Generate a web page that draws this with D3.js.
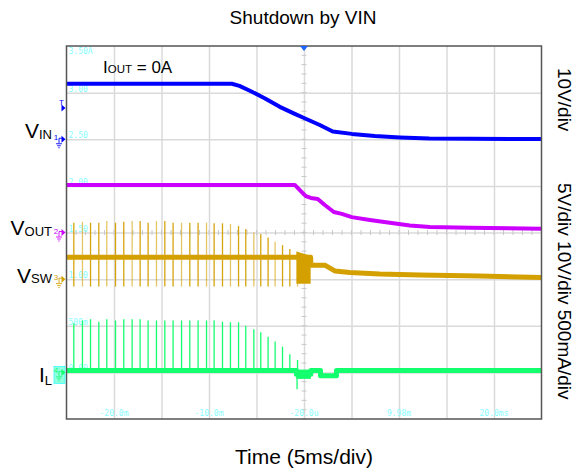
<!DOCTYPE html>
<html>
<head>
<meta charset="utf-8">
<script src="https://cdn.jsdelivr.net/npm/d3@7"></script>
<style>
  body { margin: 0; background: #fff; }
  text { font-family: Arial, "Liberation Sans", sans-serif; }
  .scope { font-family: "DejaVu Sans Mono", monospace; font-size: 8px; fill: #8ff; }
</style>
</head>
<body>
<div id="vis"></div>
<script>
var width = 578, height = 472;

/* plot frame, 10 x 8 divisions */
var plot = {left: 66.5, right: 541.5, top: 46, bottom: 419};

// time axis, ms (5ms/div, trigger in the centre)
var timeDomain = [-25, 25];
var timeGrid = [-20, -15, -10, -5, 0, 5, 10, 15, 20];
var timeLabelPos = [-20, -10, 0, 10, 20];
var timeLabels = ["-20.0m", "-10.0m", "-20.0u", "9.98m", "20.0ms"];

// screen level labels (cyan), one per horizontal grid line
var levelDivs = [4, 3, 2, 1, 0, -1, -2, -3];
var levelLabels = ["3.50A", "3.00", "2.50", "2.00", "1.50", "1.00", "500m", "0.00"];

// VIN, 10V/div
var vinT = [-25, -7.6, -6.8, -5.7, -4.1, -2.55, -0.97, 0, 1.66, 3.03, 5.03, 7.45, 10.1, 13.2, 25];
var vinV = [11.9, 11.9, 11.45, 10.4, 8.75, 6.95, 5.45, 4.55, 3.05, 1.65, 1.15, 0.7, 0.4, 0.15, 0.05];

// VOUT, 5V/div
var voutT = [-25, -0.97, -0.44, 0.19, 0.72, 1.45, 2.19, 3.14, 3.98, 5.03, 6.93, 9.03, 11.14, 13.24, 17.45, 25];
var voutV = [5.1, 5.1, 4.55, 3.9, 3.7, 3.6, 2.95, 2.2, 2.0, 1.65, 1.35, 1.05, 0.75, 0.6, 0.5, 0.4];

// VSW, 10V/div
var vswT = [-25, -0.75, 0.7, 0.72, 2.19, 3.24, 4.82, 7.98, 12.2, 18.5, 25];
var vswV = [4.7, 4.7, 4.7, 3.0, 3.0, 1.75, 1.4, 1.1, 0.9, 0.65, 0.35];
var vswBurstT = [-0.8, 0.7];
var vswBurstHi = [5.9, 5.0];
var vswBurstLo = [-1.0, -1.0];
var vswSpikeLow = -1.6;

// IL, 500mA/div
var ilT = [-25, -0.8, -0.8, 0.72, 0.72, 1.74, 1.74, 3.42, 3.42, 25];
var ilV = [0.02, 0.02, -0.02, -0.02, 0.02, 0.02, -0.036, -0.036, 0.02, 0.02];
var ilBurstT = [-0.8, 0.72];
var ilBurstHi = [0.03, 0.03];
var ilBurstLo = [-0.07, -0.07];
var ilDipT = -0.73, ilDipV = -0.18;

// switching pulses (pulse skipping at no load)
var spikeT = [-24.23, -23.32, -22.47, -21.6, -20.76, -19.84, -18.97, -18.09, -17.25, -16.41,
              -15.53, -14.65, -13.78, -12.89, -12.02, -11.15, -10.26, -9.46, -8.58, -7.74,
              -6.89, -6.13, -5.28, -4.55, -3.78, -3.04, -2.26, -1.49, -0.68];
var vswPeak = [12.1, 12.3, 12.1, 12.1, 12.45, 12.1, 12.3, 12.45, 12.45, 12.1,
               12.45, 12.45, 12.1, 12.1, 12.1, 12.1, 12.1, 11.97, 11.97, 11.8,
               11.4, 10.75, 10.0, 9.7, 8.95, 8.0, 7.3, 6.45, 5.9];
var ilPeak = [0.527, 0.555, 0.57, 0.544, 0.57, 0.555, 0.57, 0.57, 0.57, 0.555,
              0.555, 0.555, 0.555, 0.555, 0.555, 0.555, 0.555, 0.555, 0.544, 0.537,
              0.537, 0.50, 0.462, 0.43, 0.383, 0.33, 0.276, 0.194, 0.133];

/* channel settings: volts (amps) per division, ground offset in divisions */
var channels = {
  vin:  {perDiv: 10,  offset: 2,  color: "#0000ff", num: "1"},
  vout: {perDiv: 5,   offset: 0,  color: "#cc00ff", num: "2"},
  vsw:  {perDiv: 10,  offset: -1, color: "#d4a000", num: "3"},
  il:   {perDiv: 0.5, offset: -3, color: "#14ff6e", num: "4"}
};

var x = d3.scaleLinear().domain(timeDomain).range([plot.left, plot.right]);
var yDiv = d3.scaleLinear().domain([-4, 4]).range([plot.bottom, plot.top]);

function yOf(ch, v) { return yDiv(ch.offset + v / ch.perDiv); }

function zipPts(ts, vs) {
  return ts.map(function(t, i) { return [t, vs[i]]; });
}

var svg = d3.select("#vis").append("svg")
    .attr("width", width)
    .attr("height", height);

svg.append("defs").append("clipPath").attr("id", "clip")
  .append("rect")
    .attr("x", plot.left).attr("y", plot.top)
    .attr("width", plot.right - plot.left).attr("height", plot.bottom - plot.top);

/* grid through axes */
var gridX = d3.axisBottom(x).tickValues(timeGrid).tickSize(-(plot.bottom - plot.top)).tickFormat("");
var gridY = d3.axisLeft(yDiv).tickValues([-3, -2, -1, 0, 1, 2, 3]).tickSize(-(plot.right - plot.left)).tickFormat("");

svg.append("g").attr("class", "grid")
    .attr("transform", "translate(0," + plot.bottom + ")")
    .call(gridX);
svg.append("g").attr("class", "grid")
    .attr("transform", "translate(" + plot.left + ",0)")
    .call(gridY);
svg.selectAll(".grid .domain").remove();
svg.selectAll(".grid line").attr("stroke", "#dadada").attr("stroke-width", 1.5);

// minor ticks on the centre lines
var minorX = d3.range(-25, 25.01, 1);
var minorY = d3.range(-4, 4.01, 0.2);
svg.append("g").selectAll("line").data(minorX).enter().append("line")
    .attr("x1", function(d) { return x(d); }).attr("x2", function(d) { return x(d); })
    .attr("y1", yDiv(0) - 2.5).attr("y2", yDiv(0) + 2.5)
    .attr("stroke", "#c8c8c8").attr("stroke-width", 1);
svg.append("g").selectAll("line").data(minorY).enter().append("line")
    .attr("x1", x(0) - 2.5).attr("x2", x(0) + 2.5)
    .attr("y1", function(d) { return yDiv(d); }).attr("y2", function(d) { return yDiv(d); })
    .attr("stroke", "#c8c8c8").attr("stroke-width", 1);

// cyan scope readouts
svg.append("g").selectAll("text").data(timeLabelPos).enter().append("text")
    .attr("class", "scope")
    .attr("x", function(d) { return x(d); })
    .attr("y", plot.bottom - 3)
    .attr("text-anchor", "middle")
    .text(function(d, i) { return timeLabels[i]; });

svg.append("g").selectAll("text").data(levelDivs).enter().append("text")
    .attr("class", "scope")
    .attr("x", plot.left + 2)
    .attr("y", function(d) { return d === 4 ? yDiv(d) + 8 : yDiv(d) - 1; })
    .text(function(d, i) { return levelLabels[i]; });

/* traces */
var traces = svg.append("g").attr("clip-path", "url(#clip)");

function drawTrace(ch, ts, vs, w) {
  var line = d3.line()
      .x(function(d) { return x(d[0]); })
      .y(function(d) { return yOf(ch, d[1]); });
  traces.append("path")
      .datum(zipPts(ts, vs))
      .attr("d", line)
      .attr("fill", "none")
      .attr("stroke", ch.color)
      .attr("stroke-width", w)
      .attr("stroke-linejoin", "round");
}

function drawBurst(ch, ts, hi, lo) {
  var area = d3.area()
      .x(function(d) { return x(d.t); })
      .y0(function(d) { return yOf(ch, d.lo); })
      .y1(function(d) { return yOf(ch, d.hi); });
  traces.append("path")
      .datum(ts.map(function(t, i) { return {t: t, hi: hi[i], lo: lo[i]}; }))
      .attr("d", area)
      .attr("fill", ch.color);
}

drawTrace(channels.vin, vinT, vinV, 4);
drawTrace(channels.vout, voutT, voutV, 4);

// VSW pulses
traces.append("g").selectAll("line").data(spikeT).enter().append("line")
    .attr("x1", function(d) { return x(d); }).attr("x2", function(d) { return x(d); })
    .attr("y1", yOf(channels.vsw, vswSpikeLow))
    .attr("y2", function(d, i) { return yOf(channels.vsw, vswPeak[i]); })
    .attr("stroke", channels.vsw.color)
    .attr("stroke-width", 1.3)
    .attr("opacity", function(d, i) { return i % 3 === 1 ? 0.6 : 0.95; });
drawTrace(channels.vsw, vswT, vswV, 5);
drawBurst(channels.vsw, vswBurstT, vswBurstHi, vswBurstLo);

// IL pulses
traces.append("g").selectAll("line").data(spikeT).enter().append("line")
    .attr("x1", function(d) { return x(d); }).attr("x2", function(d) { return x(d); })
    .attr("y1", yOf(channels.il, 0))
    .attr("y2", function(d, i) { return yOf(channels.il, ilPeak[i]); })
    .attr("stroke", channels.il.color)
    .attr("stroke-width", 1.3);
drawTrace(channels.il, ilT, ilV, 5);
drawBurst(channels.il, ilBurstT, ilBurstHi, ilBurstLo);
traces.append("line")
    .attr("x1", x(ilDipT)).attr("x2", x(ilDipT))
    .attr("y1", yOf(channels.il, 0)).attr("y2", yOf(channels.il, ilDipV))
    .attr("stroke", channels.il.color).attr("stroke-width", 1.3);

/* frame */
svg.append("rect")
    .attr("x", plot.left).attr("y", plot.top)
    .attr("width", plot.right - plot.left).attr("height", plot.bottom - plot.top)
    .attr("fill", "none").attr("stroke", "#555").attr("stroke-width", 1.5);

// trigger position marker
svg.append("path")
    .attr("d", "M" + (x(0) - 4) + "," + plot.top + "L" + (x(0) + 4) + "," + plot.top + "L" + x(0) + "," + (plot.top + 5) + "Z")
    .attr("fill", "#1e64ff");

/* channel ground markers */
function drawMarker(ch, boxed) {
  var y0 = yOf(ch, 0);
  var g = svg.append("g");
  if (boxed) {
    g.append("rect").attr("x", 54).attr("y", y0 - 6).attr("width", 11).attr("height", 17)
        .attr("fill", "#8fffe0").attr("stroke", "#3ff").attr("stroke-width", 0.8);
  }
  g.append("text").attr("x", 56).attr("y", y0 + 1)
      .attr("text-anchor", "middle").attr("font-size", 8).attr("fill", ch.color)
      .text(ch.num);
  g.append("path")
      .attr("d", "M59," + (y0 + 4) + "V" + (y0 - 1) + "H62")
      .attr("fill", "none").attr("stroke", ch.color).attr("stroke-width", 0.9);
  g.append("path")
      .attr("d", "M61.5," + (y0 - 3.5) + "L65.5," + y0 + "L61.5," + (y0 + 3.5) + "Z")
      .attr("fill", ch.color);
  g.append("path")
      .attr("d", "M56," + (y0 + 4.5) + "H62M57.2," + (y0 + 6.5) + "H60.8M58.3," + (y0 + 8.5) + "H59.7")
      .attr("stroke", ch.color).attr("stroke-width", 0.9);
}
drawMarker(channels.vin, false);
drawMarker(channels.vout, false);
drawMarker(channels.vsw, false);
drawMarker(channels.il, true);

// trigger level marker
var trigY = 108;
svg.append("text").attr("x", 61.5).attr("y", trigY - 3).attr("text-anchor", "middle")
    .attr("font-size", 8).attr("fill", channels.vin.color).text("T");
svg.append("path")
    .attr("d", "M61.5," + (trigY - 3.5) + "L65.5," + trigY + "L61.5," + (trigY + 3.5) + "Z")
    .attr("fill", channels.vin.color);

/* texts */
svg.append("text").attr("x", 303).attr("y", 24).attr("text-anchor", "middle")
    .attr("font-size", 19).text("Shutdown by VIN");

svg.append("text").attr("x", 304).attr("y", 464).attr("text-anchor", "middle")
    .attr("font-size", 21).text("Time (5ms/div)");

var iout = svg.append("text").attr("x", 103).attr("y", 72.5).attr("font-size", 17);
iout.append("tspan").text("I");
iout.append("tspan").attr("font-size", 11.5).text("OUT");
iout.append("tspan").text(" = 0A");

var sideLabels = [
  {main: "V", sub: "IN", y: 137.5, dy: 1},
  {main: "V", sub: "OUT", y: 235, dy: 1},
  {main: "V", sub: "SW", y: 282.5, dy: 0.5},
  {main: "I", sub: "L", y: 381.5, dy: 3}
];
sideLabels.forEach(function(d) {
  var t = svg.append("text").attr("x", 52).attr("y", d.y)
      .attr("text-anchor", "end").attr("font-size", 21);
  t.append("tspan").text(d.main);
  t.append("tspan").attr("font-size", 13).attr("dy", d.dy).text(d.sub);
});

svg.append("text")
    .attr("transform", "translate(558,68) rotate(90)")
    .attr("font-size", 19).text("10V/div");
svg.append("text")
    .attr("transform", "translate(558,183) rotate(90)")
    .attr("font-size", 19).text("5V/div 10V/div 500mA/div");
</script>
</body>
</html>
